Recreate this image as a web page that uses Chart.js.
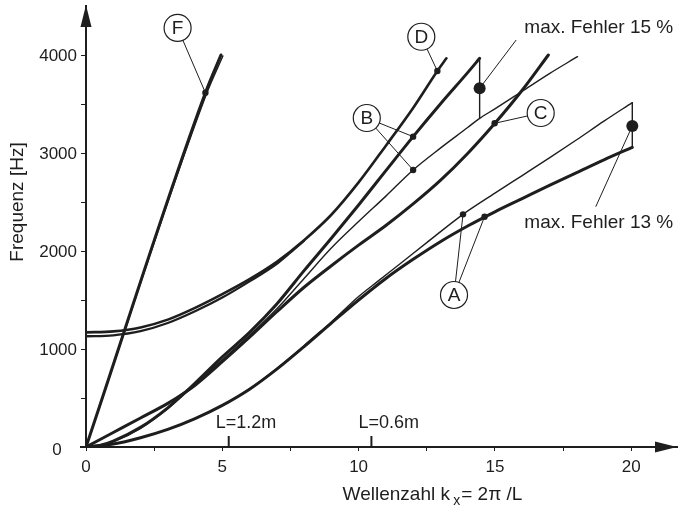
<!DOCTYPE html>
<html>
<head>
<meta charset="utf-8">
<script src="https://cdn.jsdelivr.net/npm/chart.js@4.4.0/dist/chart.umd.min.js"></script>
<style>
  html, body { margin: 0; padding: 0; background: #fff; }
  #wrap { width: 683px; height: 509px; position: relative; }
</style>
</head>
<body>
<div id="wrap"><canvas id="chart"></canvas></div>
<script>
// wavenumber k (x) and frequency in Hz (y)
const kF = [0, 4.38, 4.95];
const fF = [0, 3615, 4000];
const kF2 = [0, 4.4, 5.02];
const fF2 = [0, 3590, 3990];

const kD = [0, 1, 2, 3, 4, 5, 6, 7, 8, 9, 10, 11, 12, 12.89, 13.22];
const fD = [1170, 1180, 1220, 1300, 1420, 1560, 1713, 1890, 2110, 2370, 2700, 3075, 3460, 3837, 3966];
const kE = [0, 1, 2, 3, 4, 5, 6, 7, 7.5, 8];
const fE = [1130, 1140, 1182, 1265, 1385, 1525, 1690, 1870, 1985, 2105];

const kBu = [0, 0.5, 1, 2, 3, 3.67, 5, 6, 7, 8, 9, 10, 11, 12, 13, 14, 14.44];
const fBu = [0, 15, 60, 200, 400, 564, 920, 1170, 1460, 1800, 2130, 2470, 2820, 3167, 3500, 3820, 3966];
const kBl = [0, 0.5, 1, 2, 3, 3.67, 5, 6, 7, 8, 9, 10, 11, 12, 13, 14, 14.44, 15, 16, 17, 18.03];
const fBl = [0, 14, 55, 190, 390, 560, 890, 1140, 1410, 1720, 2030, 2300, 2560, 2827, 3050, 3260, 3354, 3450, 3630, 3810, 3983];

const kC = [0, 1, 2, 3, 3.67, 4, 5, 6, 7, 8, 9, 10, 11, 12, 13, 14, 15, 16, 16.96];
const fC = [0, 148, 296, 445, 564, 630, 870, 1120, 1380, 1630, 1850, 2060, 2260, 2480, 2720, 2995, 3303, 3640, 4000];

const kAt = [0, 1, 2, 3, 4, 5, 6, 7, 8, 9, 10, 11, 12, 13, 14, 15, 16, 17, 18, 19, 20.04];
const fAt = [0, 30, 95, 180, 290, 425, 590, 795, 1025, 1265, 1500, 1720, 1915, 2095, 2255, 2400, 2535, 2670, 2800, 2930, 3058];
const kAn = [0, 1, 2, 3, 4, 5, 6, 7, 8, 9, 10, 10.7, 11.5, 12.5, 13.83, 15, 16, 17, 18, 19, 20.04];
const fAn = [0, 30, 95, 180, 290, 425, 593, 800, 1032, 1275, 1535, 1690, 1865, 2085, 2374, 2590, 2770, 2950, 3135, 3325, 3514];

// error bars between exact and approximated curve
const kErrB = [14.44, 14.44];
const fErrB = [3966, 3354];
const kErrA = [20.04, 20.04];
const fErrA = [3514, 3058];

const dotK = [4.38, 12.89, 12.0, 12.0, 14.99, 13.83, 14.62];
const dotF = [3615, 3837, 3167, 2827, 3303, 2374, 2350];
const bigK = [14.44, 20.04];
const bigF = [3660, 3276];

const circName = ["F", "D", "B", "C", "A"];
const circK = [3.36, 12.3, 10.3, 16.68, 13.5];
const circF = [4276, 4186, 3357, 3408, 1551];
const leaderFrom = [0, 1, 2, 2, 3, 4, 4];
const leaderTo = [0, 1, 2, 3, 4, 5, 6];

const noteText = ["max. Fehler 15 %", "max. Fehler 13 %"];
const noteK = [18.81, 18.81];
const noteF = [4276, 2286];
const noteLeadK = [15.78, 18.7];
const noteLeadF = [4153, 2452];

const lenK = [5.236, 10.47];
const lenText = ["L=1.2m", "L=0.6m"];

const yTickVals = [0, 1000, 2000, 3000, 4000];

const ink = "#1e1e1e";
const FONT = "'Liberation Sans', Arial, sans-serif";

function pts(ks, fs) {
  return ks.map((k, i) => ({ x: k, y: fs[i] }));
}

function curve(ks, fs, width) {
  return {
    data: pts(ks, fs),
    showLine: true,
    borderColor: ink,
    borderWidth: width,
    pointRadius: 0,
    cubicInterpolationMode: "monotone",
    borderCapStyle: "round",
  };
}

const extras = {
  id: "extras",
  afterDatasetsDraw(chart) {
    const ctx = chart.ctx;
    const sx = chart.scales.x;
    const sy = chart.scales.y;
    const X = (k) => sx.getPixelForValue(k);
    const Y = (f) => sy.getPixelForValue(f);
    ctx.save();
    ctx.strokeStyle = ink;
    ctx.fillStyle = ink;

    // leaders to the marked points
    ctx.lineWidth = 1;
    leaderFrom.forEach((c, i) => {
      const d = leaderTo[i];
      ctx.beginPath();
      ctx.moveTo(X(circK[c]), Y(circF[c]));
      ctx.lineTo(X(dotK[d]), Y(dotF[d]));
      ctx.stroke();
    });
    noteText.forEach((t, i) => {
      ctx.beginPath();
      ctx.moveTo(X(noteLeadK[i]), Y(noteLeadF[i]));
      ctx.lineTo(X(bigK[i]), Y(bigF[i]));
      ctx.stroke();
    });

    // circled letters
    ctx.font = "19px " + FONT;
    ctx.textAlign = "center";
    ctx.textBaseline = "middle";
    circName.forEach((n, i) => {
      const cx = X(circK[i]);
      const cy = Y(circF[i]);
      ctx.beginPath();
      ctx.arc(cx, cy, 13.5, 0, Math.PI * 2);
      ctx.fillStyle = "#fff";
      ctx.fill();
      ctx.lineWidth = 1.2;
      ctx.stroke();
      ctx.fillStyle = ink;
      ctx.fillText(n, cx, cy + 1);
    });

    // notes
    noteText.forEach((t, i) => {
      ctx.fillText(t, X(noteK[i]), Y(noteF[i]));
    });

    // y tick labels
    ctx.font = "17px " + FONT;
    yTickVals.forEach((v) => {
      if (v === 0) {
        ctx.textAlign = "center";
        ctx.fillText(String(v), 57, Y(v) + 3);
      } else {
        ctx.textAlign = "right";
        ctx.fillText(String(v), 77, Y(v) + 1);
      }
    });

    // wavelength markers on the k axis
    ctx.lineWidth = 2;
    ctx.textAlign = "left";
    ctx.textBaseline = "alphabetic";
    ctx.font = "18px " + FONT;
    lenK.forEach((k, i) => {
      const x = X(k);
      ctx.beginPath();
      ctx.moveTo(x, Y(0));
      ctx.lineTo(x, Y(0) - 11);
      ctx.stroke();
      ctx.fillText(lenText[i], x - 13, Y(0) - 19);
    });

    // arrow heads
    const x0 = X(0), y0 = Y(0);
    const top = chart.chartArea.top, right = chart.chartArea.right;
    ctx.beginPath();
    ctx.moveTo(x0, top - 1);
    ctx.lineTo(x0 - 5.5, top + 21);
    ctx.lineTo(x0 + 5.5, top + 21);
    ctx.closePath();
    ctx.fill();
    ctx.beginPath();
    ctx.moveTo(right, y0);
    ctx.lineTo(right - 22, y0 - 5.5);
    ctx.lineTo(right - 22, y0 + 5.5);
    ctx.closePath();
    ctx.fill();

    // x axis runs a little past the origin
    ctx.lineWidth = 2;
    ctx.beginPath();
    ctx.moveTo(x0 - 6, y0);
    ctx.lineTo(x0, y0);
    ctx.stroke();

    // axis titles
    ctx.font = "19px " + FONT;
    ctx.textAlign = "center";
    ctx.textBaseline = "middle";
    ctx.save();
    ctx.translate(18, 202);
    ctx.rotate(-Math.PI / 2);
    ctx.fillText("Frequenz [Hz]", 0, 0);
    ctx.restore();

    const a = "Wellenzahl k", sub = "x", b = "= 2\u03c0 /L";
    ctx.textAlign = "left";
    ctx.textBaseline = "alphabetic";
    ctx.font = "19px " + FONT;
    const wa = ctx.measureText(a + " ").width;
    const wb = ctx.measureText(b).width;
    ctx.font = "14px " + FONT;
    const ws = ctx.measureText(sub).width;
    const tx = 433 - (wa + ws + wb) / 2;
    ctx.font = "19px " + FONT;
    ctx.fillText(a, tx, 500);
    ctx.font = "14px " + FONT;
    ctx.fillText(sub, tx + wa - 2, 505);
    ctx.font = "19px " + FONT;
    ctx.fillText(b, tx + wa + ws - 1, 500);

    ctx.restore();
  },
};

const datasets = [
  curve(kF, fF, 3),
  curve(kF2, fF2, 1.5),
  curve(kE, fE, 2.3),
  curve(kD, fD, 2.6),
  curve(kBu, fBu, 3),
  curve(kBl, fBl, 1.4),
  curve(kC, fC, 3),
  curve(kAn, fAn, 1.4),
  curve(kAt, fAt, 3),
  { ...curve(kErrB, fErrB, 1.4), cubicInterpolationMode: "default" },
  { ...curve(kErrA, fErrA, 1.4), cubicInterpolationMode: "default" },
  {
    data: pts(dotK, dotF),
    showLine: false,
    pointRadius: 3.2,
    pointBackgroundColor: ink,
    pointBorderWidth: 0,
  },
  {
    data: pts(bigK, bigF),
    showLine: false,
    pointRadius: 6,
    pointBackgroundColor: ink,
    pointBorderWidth: 0,
  },
];

new Chart(document.getElementById("chart"), {
  type: "scatter",
  data: { datasets: datasets },
  options: {
    responsive: true,
    maintainAspectRatio: false,
    animation: false,
    events: [],
    layout: { padding: { top: 6, right: 2, left: 0, bottom: 0 } },
    plugins: {
      legend: { display: false },
      tooltip: { enabled: false },
    },
    scales: {
      x: {
        type: "linear",
        min: 0,
        max: 21.68,
        afterFit: (s) => { s.height = 62; s.paddingLeft = 0; s.paddingRight = 0; },
        afterBuildTicks: (s) => { s.ticks = s.ticks.filter((t) => t.value <= 20); },
        ticks: {
          stepSize: 2.5,
          includeBounds: false,
          autoSkip: false,
          maxRotation: 0,
          padding: 6,
          color: ink,
          font: { family: FONT, size: 17 },
          callback: (v) => (v % 5 === 0 ? String(v) : ""),
        },
        grid: { drawOnChartArea: false, drawTicks: true, tickLength: 4, color: ink, lineWidth: 1 },
        border: { display: true, color: ink, width: 2 },
      },
      y: {
        type: "linear",
        min: 0,
        max: 4500,
        afterFit: (s) => { s.width = 86; s.paddingTop = 0; s.paddingBottom = 0; },
        afterBuildTicks: (s) => { s.ticks = s.ticks.filter((t) => t.value <= 4000); },
        ticks: {
          stepSize: 500,
          includeBounds: false,
          display: false,
        },
        grid: { drawOnChartArea: false, drawTicks: true, tickLength: 5, color: ink, lineWidth: 1 },
        border: { display: true, color: ink, width: 2 },
      },
    },
  },
  plugins: [extras],
});
</script>
</body>
</html>
